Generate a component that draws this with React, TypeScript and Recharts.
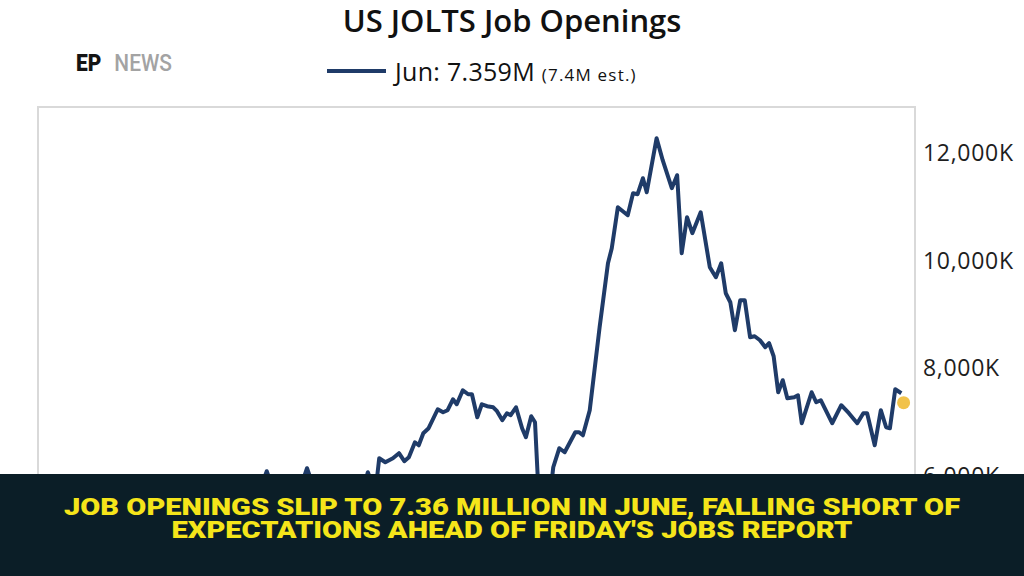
import React from "react";
import { ComposedChart, Line, Scatter, XAxis, YAxis, ReferenceArea } from "recharts";

// Monthly JOLTS job openings (thousands)
const periods = [
  2014.0, 2014.13, 2014.26, 2014.39, 2014.53, 2014.66, 2014.79, 2014.92, 2015.05, 2015.18,
  2015.32, 2015.45, 2015.58, 2015.71, 2015.84, 2015.97, 2016.11, 2016.24, 2016.37, 2016.5,
  2016.63, 2016.76, 2016.88, 2016.95, 2017.01, 2017.08, 2017.18, 2017.29, 2017.39, 2017.47,
  2017.54, 2017.61, 2017.71, 2017.82, 2017.92, 2018.03, 2018.13, 2018.24, 2018.29, 2018.34,
  2018.41, 2018.46, 2018.49, 2018.57, 2018.67, 2018.75, 2018.82, 2018.88, 2018.96, 2019.01,
  2019.07, 2019.14, 2019.26, 2019.33, 2019.39, 2019.46, 2019.51, 2019.59, 2019.66, 2019.71,
  2019.78, 2019.84, 2019.91, 2019.99, 2020.04, 2020.11, 2020.17, 2020.22, 2020.29, 2020.37,
  2020.42, 2020.49, 2020.54, 2020.61, 2020.64, 2020.72, 2020.78, 2020.86, 2020.93, 2021.0,
  2021.07, 2021.12, 2021.17, 2021.26, 2021.39, 2021.5, 2021.55, 2021.63, 2021.76, 2021.83,
  2021.89, 2021.96, 2022.01, 2022.14, 2022.22, 2022.34, 2022.41, 2022.47, 2022.54, 2022.61,
  2022.72, 2022.84, 2022.92, 2022.99, 2023.05, 2023.11, 2023.17, 2023.24, 2023.3, 2023.37,
  2023.43, 2023.5, 2023.57, 2023.62, 2023.68, 2023.74, 2023.8, 2023.86, 2023.95, 2024.0,
  2024.05, 2024.18, 2024.24, 2024.3, 2024.45, 2024.57, 2024.67, 2024.78, 2024.86, 2024.91,
  2025.01, 2025.09, 2025.16, 2025.21, 2025.28, 2025.36,
];

const openings = [
  4100, 4300, 4250, 4500, 4650, 4600, 4900, 5050, 4950, 5300,
  5450, 5350, 5500, 5600, 5450, 5650, 5550, 5700, 5600, 5750,
  5650, 5800, 5700, 5850, 6084, 5800, 5750, 5850, 5700, 5850,
  6140, 5850, 5750, 5850, 5700, 5800, 5750, 5850, 5800, 6065,
  5800, 5950, 6326, 6251, 6326, 6419, 6270, 6344, 6623, 6567,
  6791, 6884, 7237, 7181, 7219, 7423, 7330, 7591, 7516, 7516,
  7088, 7330, 7293, 7274, 7200, 7033, 7163, 7126, 7274, 6884,
  6716, 7107, 6995, 5000, 4600, 5400, 6158, 6512, 6437, 6623,
  6809, 6809, 6753, 7219, 8763, 9953, 10233, 10995, 10847, 11256,
  11237, 11535, 11274, 12280, 11870, 11349, 11591, 10140, 10809, 10512,
  10902, 9879, 9693, 9953, 9395, 9228, 8707, 9265, 9265, 8577,
  8595, 8521, 8391, 8465, 8223, 7553, 7777, 7442, 7460, 7498,
  6977, 7553, 7367, 7405, 6977, 7312, 7163, 6977, 7163, 7163,
  6567, 7219, 6902, 6884, 7609, 7535,
];

const latestPeriod = 2025.39;
const latestValue = 7359;
const yTicks = [6000, 8000, 10000, 12000];

const lineData = periods.map((t, i) => ({ t, v: openings[i] }));
const latestData = [{ t: latestPeriod, v: latestValue }];

const NAVY = "#1f3b68";
const FRAME = "#d9d9d9";
const xDomain = [2014, 2025.54];
const yDomain = [3000, 12860];

const fmtK = (v: number) => `${v.toLocaleString("en-US")}K`;

const YellowDot = (props: any) => (
  <circle cx={props.cx} cy={props.cy} r={6.5} fill="#f1c24a" />
);

const bannerLine: React.CSSProperties = {
  position: "absolute",
  left: 0,
  width: 1024,
  height: 23,
  lineHeight: "23px",
  textAlign: "center",
  whiteSpace: "nowrap",
  transform: "scaleX(1.21)",
  transformOrigin: "512px 0",
};

export default function App() {
  return (
    <div
      style={{
        position: "absolute",
        left: 0,
        top: 0,
        width: 1024,
        height: 576,
        overflow: "hidden",
        background: "#fff",
        fontFamily: "'Open Sans', sans-serif",
      }}
    >
      <div style={{ position: "absolute", left: 0, top: 0 }}>
        <ComposedChart width={1024} height={660} margin={{ top: 107, right: 0, bottom: 23, left: 38 }}>
          <XAxis dataKey="t" type="number" domain={xDomain} allowDataOverflow hide />
          <YAxis
            yAxisId="val"
            orientation="right"
            domain={yDomain}
            allowDataOverflow
            ticks={yTicks}
            tickFormatter={fmtK}
            width={109}
            axisLine={false}
            tickLine={false}
            tickSize={0}
            tickMargin={8}
            tick={{ fill: "#1e1e1e", fontSize: 23, letterSpacing: 0.7, fontFamily: "'Open Sans', sans-serif" }}
          />
          <ReferenceArea
            yAxisId="val"
            x1={xDomain[0]}
            x2={xDomain[1]}
            y1={yDomain[0]}
            y2={yDomain[1]}
            fill="none"
            stroke={FRAME}
            strokeWidth={2}
          />
          <Line
            yAxisId="val"
            data={lineData}
            dataKey="v"
            type="linear"
            stroke={NAVY}
            strokeWidth={4}
            strokeLinejoin="round"
            dot={false}
            isAnimationActive={false}
          />
          <Scatter
            yAxisId="val"
            data={latestData}
            dataKey="v"
            shape={YellowDot}
            isAnimationActive={false}
          />
        </ComposedChart>
      </div>

      <div
        style={{
          position: "absolute",
          left: 0,
          top: 1.5,
          width: 1024,
          textAlign: "center",
          fontSize: 31,
          lineHeight: "36px",
          fontWeight: 600,
          color: "#111",
        }}
      >
        US JOLTS Job Openings
      </div>

      <div
        style={{
          position: "absolute",
          left: 76,
          top: 50,
          fontFamily: "Roboto, sans-serif",
          fontSize: 24,
          lineHeight: "26px",
          transform: "scaleX(0.87)",
          transformOrigin: "left top",
          whiteSpace: "nowrap",
        }}
      >
        <span style={{ fontWeight: 900, color: "#141414" }}>EP</span>
        <span style={{ fontWeight: 500, color: "#a3a3a3", marginLeft: 15 }}>NEWS</span>
      </div>

      <div style={{ position: "absolute", left: 327, top: 69, width: 59, height: 4, background: NAVY }} />
      <div
        style={{
          position: "absolute",
          left: 395,
          top: 57,
          fontSize: 25,
          lineHeight: "28px",
          letterSpacing: 0.3,
          color: "#111",
          whiteSpace: "nowrap",
        }}
      >
        Jun: 7.359M <span style={{ fontSize: 17, letterSpacing: 1.2 }}>(7.4M est.)</span>
      </div>

      <div
        style={{
          position: "absolute",
          left: 0,
          top: 474,
          width: 1024,
          height: 102,
          background: "#0b1e27",
          color: "#f5e51a",
          fontFamily: "Roboto, sans-serif",
          fontWeight: 900,
          fontSize: 24,
        }}
      >
        <div style={{ ...bannerLine, top: 22 }}>JOB OPENINGS SLIP TO 7.36 MILLION IN JUNE, FALLING SHORT OF</div>
        <div style={{ ...bannerLine, top: 45 }}>EXPECTATIONS AHEAD OF FRIDAY'S JOBS REPORT</div>
      </div>
    </div>
  );
}
